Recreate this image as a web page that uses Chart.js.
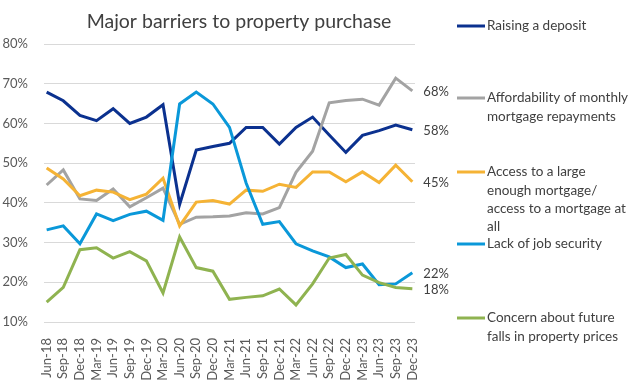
<!DOCTYPE html>
<html>
<head>
<meta charset="utf-8">
<script src="https://cdn.jsdelivr.net/npm/chart.js@4"></script>
<style>
  body { margin: 0; background: #fff; }
  #wrap { width: 631px; height: 391px; }
</style>
</head>
<body>
<div id="wrap"><canvas id="chart" width="631" height="391"></canvas></div>
<script>
const labels = ['Jun-18', 'Sep-18', 'Dec-18', 'Mar-19', 'Jun-19', 'Sep-19', 'Dec-19', 'Mar-20',
    'Jun-20', 'Sep-20', 'Dec-20', 'Mar-21', 'Jun-21', 'Sep-21', 'Dec-21', 'Mar-22',
    'Jun-22', 'Sep-22', 'Dec-22', 'Mar-23', 'Jun-23', 'Sep-23', 'Dec-23'];

const deposit = [67.9, 65.7, 62.0, 60.7, 63.7, 60.0, 61.6, 64.7, 39.6, 53.3, 54.2, 55.0,
    59.0, 59.0, 54.8, 59.0, 61.6, 57.1, 52.7, 57.0, 58.2, 59.6, 58.4];
const affordability = [44.5, 48.3, 41.0, 40.6, 43.5, 39.0, 41.3, 43.7, 34.6, 36.4, 36.5, 36.7,
    37.5, 37.2, 38.8, 47.7, 53.0, 65.2, 65.8, 66.1, 64.6, 71.4, 68.2];
const access = [48.8, 46.0, 41.8, 43.2, 42.7, 40.8, 42.2, 46.2, 34.2, 40.2, 40.6, 39.7,
    43.2, 42.9, 44.7, 43.9, 47.8, 47.8, 45.3, 47.8, 45.1, 49.5, 45.3];
const jobSecurity = [33.2, 34.2, 29.7, 37.2, 35.5, 37.1, 37.9, 35.6, 64.9, 67.9, 64.9, 59.0,
    45.0, 34.6, 35.3, 29.7, 27.9, 26.4, 23.7, 24.6, 19.4, 19.6, 22.4];
const priceFalls = [15.0, 18.7, 28.2, 28.7, 26.1, 27.7, 25.4, 17.3, 31.4, 23.7, 22.8, 15.7,
    16.2, 16.6, 18.3, 14.3, 19.6, 26.1, 27.0, 21.8, 19.9, 18.7, 18.4];

const seriesNames = [
    ['Raising a deposit'],
    ['Affordability of monthly', 'mortgage repayments'],
    ['Access to a large', 'enough mortgage/', 'access to a mortgage at', 'all'],
    ['Lack of job security'],
    ['Concern about future', 'falls in property prices']
];
const yTicks = [10, 20, 30, 40, 50, 60, 70, 80];

const colors = ['#0b318f', '#a3a3a3', '#f5b335', '#0a98d9', '#8fb350'];
const FONT = 'Lato, "Open Sans", sans-serif';
// where each legend entry's first line sits
const legendTop = [26, 98, 172, 244, 318];

const allSeries = [deposit, affordability, access, jobSecurity, priceFalls];

const datasets = allSeries.map((values, i) => ({
    label: seriesNames[i].join(' '),
    data: values.map((v, idx) => ({ x: idx, y: v })),
    borderColor: colors[i],
    backgroundColor: colors[i],
    borderWidth: 3,
    pointRadius: 0,
    tension: 0,
    order: allSeries.length - i
}));

const extras = {
    id: 'extras',
    afterDraw(chart) {
        const ctx = chart.ctx;
        ctx.save();

        // title
        ctx.fillStyle = '#404040';
        ctx.font = '19.5px ' + FONT;
        ctx.textAlign = 'center';
        ctx.textBaseline = 'middle';
        ctx.fillText('Major barriers to property purchase', 239, 22);

        // end labels
        ctx.font = '13px ' + FONT;
        ctx.textAlign = 'left';
        chart.data.datasets.forEach((ds, i) => {
            const meta = chart.getDatasetMeta(i);
            const last = meta.data[meta.data.length - 1];
            const v = ds.data[ds.data.length - 1].y;
            ctx.fillText(Math.round(v) + '%', last.x + 11, last.y + 1);
        });

        // legend
        ctx.font = '13.5px ' + FONT;
        seriesNames.forEach((lines, i) => {
            const y0 = legendTop[i];
            ctx.strokeStyle = colors[i];
            ctx.lineWidth = 3;
            ctx.beginPath();
            ctx.moveTo(457, y0);
            ctx.lineTo(485, y0);
            ctx.stroke();
            ctx.fillStyle = '#404040';
            lines.forEach((t, k) => ctx.fillText(t, 487, y0 + k * 18.3));
        });
        ctx.restore();
    }
};

new Chart(document.getElementById('chart'), {
    type: 'line',
    data: { datasets: datasets },
    options: {
        responsive: false,
        animation: false,
        layout: { padding: { top: 44, right: 216, left: 0, bottom: 0 } },
        plugins: {
            legend: { display: false },
            tooltip: { enabled: false }
        },
        scales: {
            x: {
                type: 'linear',
                min: -0.16,
                max: labels.length - 1 + 0.16,
                afterFit: (s) => { s.height = 69; },
                grid: { display: false },
                border: { display: false },
                ticks: {
                    stepSize: 1,
                    includeBounds: false,
                    autoSkip: false,
                    minRotation: 90,
                    maxRotation: 90,
                    padding: 8,
                    color: '#595959',
                    font: { family: FONT, size: 13 },
                    callback: (v) => Number.isInteger(v) ? labels[v] : ''
                }
            },
            y: {
                min: yTicks[0],
                max: yTicks[yTicks.length - 1],
                afterFit: (s) => { s.width = 44; },
                border: { display: false },
                grid: { color: '#d9d9d9', lineWidth: 1, drawTicks: false },
                ticks: {
                    stepSize: 10,
                    padding: 16,
                    color: '#595959',
                    font: { family: FONT, size: 13 },
                    callback: (v) => v + '%'
                }
            }
        }
    },
    plugins: [extras]
});
</script>
</body>
</html>
